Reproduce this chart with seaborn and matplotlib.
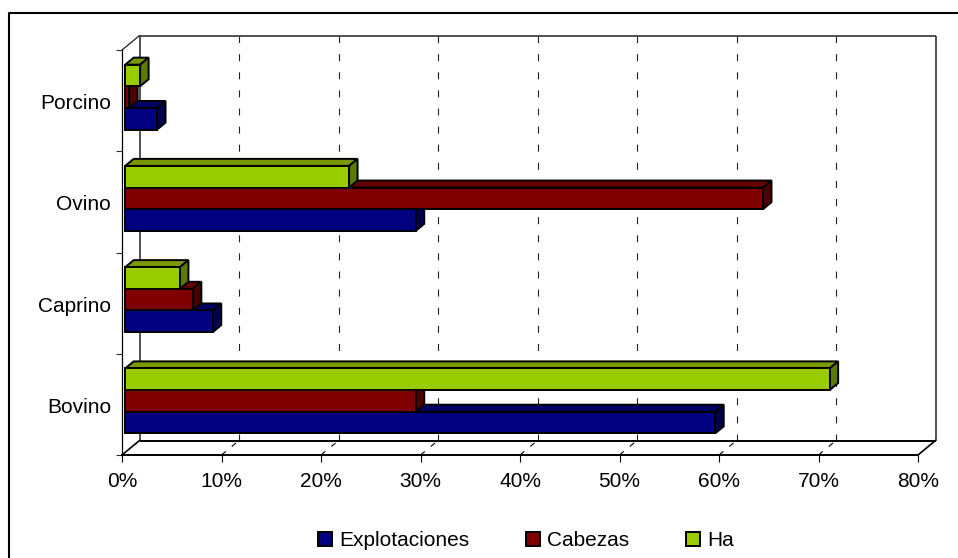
import pandas as pd
import matplotlib.pyplot as plt
import seaborn as sns
from matplotlib.transforms import Affine2D
from matplotlib.patches import Polygon

categories = ["Porcino", "Ovino", "Caprino", "Bovino"]
explotaciones = [3.2, 29.2, 8.8, 59.3]
cabezas = [0.4, 64.1, 6.8, 29.2]
ha = [1.5, 22.5, 5.5, 70.8]
x_ticks = [0, 10, 20, 30, 40, 50, 60, 70, 80]

colors = {"Explotaciones": "#000080", "Cabezas": "#800000", "Ha": "#99CC00"}
tops = {"#000080": "#000066", "#800000": "#660000", "#99CC00": "#7A9900"}
sides = {"#000080": "#00004D", "#800000": "#4D0000", "#99CC00": "#5C7A00"}

df = pd.DataFrame({
    "cat": categories * 3,
    "serie": ["Ha"] * 4 + ["Cabezas"] * 4 + ["Explotaciones"] * 4,
    "val": ha + cabezas + explotaciones,
})

sns.set_theme(style="white")
plt.rcParams["font.family"] = ["Liberation Sans", "DejaVu Sans"]

W, H = 958, 558
fig = plt.figure(figsize=(W / 100, H / 100), dpi=100)
fig.patch.set_facecolor("white")

# front plane of the fake 3D box, in pixels
left, right, top, bottom = 122, 918, 50, 455
ax = fig.add_axes([left / W, 1 - bottom / H, (right - left) / W, (bottom - top) / H])
ax.set_facecolor("none")

sns.barplot(data=df, y="cat", x="val", hue="serie", order=categories,
            hue_order=["Ha", "Cabezas", "Explotaciones"],
            palette=colors, width=0.642, saturation=1, ax=ax,
            edgecolor="black", linewidth=1.4)
ax.set_xlim(0, 80)
ax.set_ylim(3.5, -0.5)
ax.set_xlabel("")
ax.set_ylabel("")

sns.despine(ax=ax, top=True, right=True)
ax.spines["left"].set_color("black")
ax.spines["left"].set_linewidth(0.9)
ax.spines["bottom"].set_color("black")
ax.spines["bottom"].set_linewidth(1.4)

ax.set_xticks(x_ticks)
ax.set_xticklabels([f"{t}%" for t in x_ticks], fontsize=15, color="black")
ax.tick_params(axis="x", bottom=True, length=4.8, width=0.8, pad=7.5, color="black")
ax.set_yticks(range(4))
ax.set_yticklabels(categories, fontsize=15, color="black")
ax.tick_params(axis="y", which="major", left=False, pad=9)
ax.set_yticks([-0.5, 0.5, 1.5, 2.5, 3.5], minor=True)
ax.tick_params(axis="y", which="minor", left=True, length=4.5, width=0.8, color="#333333")
for lab in ax.get_yticklabels():
    lab.set_transform(lab.get_transform() + Affine2D().translate(10, -1))

# back wall and floor
back = ax.transData + Affine2D().translate(17.5, 14.5)
grid_dash = (0, (6.3, 10))
ax.vlines(x_ticks[1:-1], 3.5, -0.5, transform=back, colors="#222222", lw=0.8,
          linestyles=[grid_dash], zorder=0.5, clip_on=False)
ax.vlines([0, 80], 3.5, -0.5, transform=back, colors="#222222", lw=1.1, zorder=0.6, clip_on=False)
ax.hlines(-0.5, 0, 80, transform=back, colors="#222222", lw=1.1, zorder=0.6, clip_on=False)
ax.hlines(3.5, 0, 80, transform=back, colors="black", lw=1.4, zorder=0.6, clip_on=False)

to_px = ax.transData.transform
for t in x_ticks:
    (x0, y0) = to_px((t, 3.5))
    dashed = t not in (0, 80)
    ax.add_line(plt.Line2D([x0, x0 + 17.5], [y0, y0 + 14.5], transform=None, color="black",
                           lw=0.8 if dashed else 1.2, ls=(0, (5, 7)) if dashed else "-",
                           clip_on=False, zorder=0.6))
(x0, y0) = to_px((0, -0.5))
ax.add_line(plt.Line2D([x0, x0 + 17.5], [y0, y0 + 14.5], transform=None, color="#222222",
                       lw=0.9, clip_on=False, zorder=0.6))

# bars: shift front faces off the axis plane, add top and side faces.
# upper bars sit in front of the lower ones, so their faces hide the top band below
dx, dy = 8.5, 7
shift_x, shift_y = 3.2, 3.5
bars = sorted([p for p in ax.patches if p.get_width() > 0], key=lambda p: -p.get_y())
for i, p in enumerate(bars):
    z = 2 + i
    hex_col = "#%02X%02X%02X" % tuple(int(round(c * 255)) for c in p.get_facecolor()[:3])
    a = to_px((p.get_x(), p.get_y() + p.get_height()))
    b = to_px((p.get_x() + p.get_width(), p.get_y()))
    x1, y1 = a[0] + shift_x, a[1] + shift_y
    x2, y2 = b[0] + shift_x, b[1] + shift_y
    p.set_transform(ax.transData + Affine2D().translate(shift_x, shift_y))
    p.set_zorder(z + 0.5)
    p.set_clip_on(False)
    ax.add_patch(Polygon([(x1, y2), (x1 + dx, y2 + dy), (x2 + dx, y2 + dy), (x2, y2)],
                         transform=None, facecolor=tops[hex_col], edgecolor="black",
                         lw=1.4, zorder=z, clip_on=False))
    ax.add_patch(Polygon([(x2, y1), (x2 + dx, y1 + dy), (x2 + dx, y2 + dy), (x2, y2)],
                         transform=None, facecolor=sides[hex_col], edgecolor="black",
                         lw=1.4, zorder=z, clip_on=False))

# legend
handles, labels = ax.get_legend_handles_labels()
lookup = dict(zip(labels, handles))
order = ["Explotaciones", "Cabezas", "Ha"]
ax.get_legend().remove()
fig.legend([lookup[k] for k in order], order, ncol=3, frameon=False, fontsize=15,
           loc="center left", bbox_to_anchor=(318 / W, 1 - 541 / H), borderaxespad=0,
           borderpad=0, handlelength=0.67, handleheight=0.67, handletextpad=0.35,
           columnspacing=2.72, labelcolor="black")

# only the top and left edges of the chart border are in the picture
fig.add_artist(plt.Line2D([9 / W, 9 / W, 1], [0, 1 - 12.5 / H, 1 - 12.5 / H],
                          transform=fig.transFigure, color="black", lw=1.5))

fig.savefig("out.png", dpi=100)
